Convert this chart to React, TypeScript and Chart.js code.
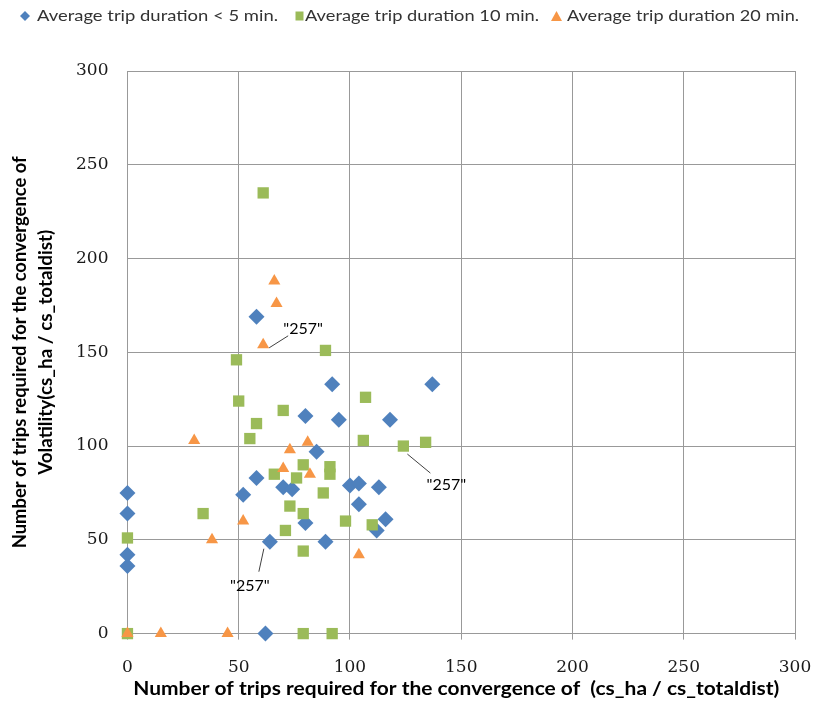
import React, { useEffect, useRef } from "react";
import { Chart, registerables } from "chart.js";

Chart.register(...registerables);

const seriesLabels = [
  "Average trip duration < 5 min.",
  "Average trip duration 10 min.",
  "Average trip duration 20 min.",
];
const seriesColors = ["#4F81BD", "#9BBB59", "#F79646"];

const xTitle = "Number of trips required for the convergence of  (cs_ha / cs_totaldist)";
const yTitleLines = [
  "Number of trips required for the convergence of",
  "Volatility(cs_ha / cs_totaldist)",
];

const axisMin = 0;
const axisMax = 300;
const axisStep = 50;

// Average trip duration < 5 min. (diamonds)
const under5X = [0, 0, 0, 0, 62, 64, 52, 58, 58, 70, 74, 80, 92, 95, 118, 85, 100, 104, 113, 104, 116, 112, 80, 89, 137];
const under5Y = [75, 64, 42, 36, 0, 49, 74, 83, 169, 78, 77, 116, 133, 114, 114, 97, 79, 80, 78, 69, 61, 55, 59, 49, 133];

// Average trip duration 10 min. (squares)
const min10X = [0, 0, 34, 49, 50, 55, 58, 61, 66, 70, 71, 73, 76, 79, 79, 79, 79, 88, 89, 91, 91, 92, 98, 106, 107, 110, 124, 134];
const min10Y = [0, 51, 64, 146, 124, 104, 112, 235, 85, 119, 55, 68, 83, 90, 64, 44, 0, 75, 151, 89, 85, 0, 60, 103, 126, 58, 100, 102];

// Average trip duration 20 min. (triangles)
const min20X = [0, 15, 30, 38, 45, 52, 61, 66, 67, 70, 73, 81, 82, 104];
const min20Y = [0, 0, 103, 50, 0, 60, 154, 188, 176, 88, 98, 102, 85, 42];

// Data labels ("257") attached to points: series index, point index
const annotationText = ['"257"', '"257"', '"257"'];
const annotationSeries = [2, 1, 0];
const annotationPoint = [6, 26, 5];

const toPoints = (xs: number[], ys: number[]) => xs.map((x, i) => ({ x, y: ys[i] }));

function drawFitted(
  ctx: CanvasRenderingContext2D,
  text: string,
  x: number,
  y: number,
  targetW: number,
  align: CanvasTextAlign
) {
  const w = ctx.measureText(text).width;
  const s = w > 0 ? targetW / w : 1;
  ctx.save();
  ctx.translate(x, y);
  ctx.scale(s, 1);
  ctx.textAlign = align;
  ctx.fillText(text, 0, 0);
  ctx.restore();
}

const SANS = "Lato, 'Open Sans', sans-serif";

const decorPlugin = {
  id: "decor",
  afterDatasetsDraw(chart: any) {
    const ctx: CanvasRenderingContext2D = chart.ctx;
    // label offsets (style) relative to anchored point: [lineStartDx, lineStartDy, lineEndDx, lineEndDy, textDx, textDy]
    const offsets = [
      [6, 3, 25, -9, 40, -16],
      [4, 8, 27, 27, 43, 39],
      [-6, 7, -11, 30, -20, 44],
    ];
    ctx.save();
    ctx.font = `16px ${SANS}`;
    ctx.fillStyle = "#000";
    ctx.strokeStyle = "#404040";
    ctx.lineWidth = 1;
    ctx.textAlign = "center";
    ctx.textBaseline = "middle";
    annotationText.forEach((t, i) => {
      const meta = chart.getDatasetMeta(annotationSeries[i]);
      const el = meta.data[annotationPoint[i]];
      if (!el) return;
      const o = offsets[i];
      ctx.beginPath();
      ctx.moveTo(el.x + o[0], el.y + o[1]);
      ctx.lineTo(el.x + o[2], el.y + o[3]);
      ctx.stroke();
      ctx.fillText(t, el.x + o[4], el.y + o[5]);
    });
    ctx.restore();
  },
  afterDraw(chart: any) {
    const ctx: CanvasRenderingContext2D = chart.ctx;
    const area = chart.chartArea;
    ctx.save();
    // Legend
    const legendTextX = [37, 305, 567];
    const legendTextW = [241, 234, 232];
    const markerX = [25, 299.5, 556.5];
    const my = 16;
    seriesLabels.forEach((label, i) => {
      ctx.fillStyle = seriesColors[i];
      ctx.beginPath();
      const mx = markerX[i];
      if (i === 0) {
        ctx.moveTo(mx, my - 5);
        ctx.lineTo(mx + 5, my);
        ctx.lineTo(mx, my + 5);
        ctx.lineTo(mx - 5, my);
        ctx.closePath();
      } else if (i === 1) {
        ctx.rect(mx - 4, my - 4.5, 8, 9);
      } else {
        ctx.moveTo(mx, my - 5);
        ctx.lineTo(mx + 5.5, my + 5);
        ctx.lineTo(mx - 5.5, my + 5);
        ctx.closePath();
      }
      ctx.fill();
      ctx.fillStyle = "#333";
      ctx.font = `16px ${SANS}`;
      ctx.textBaseline = "alphabetic";
      drawFitted(ctx, label, legendTextX[i], 21, legendTextW[i], "left");
    });

    // X axis title
    ctx.fillStyle = "#000";
    ctx.font = `bold 18px ${SANS}`;
    ctx.textBaseline = "alphabetic";
    drawFitted(ctx, xTitle, (area.left + area.right) / 2 - 5, 695, 646, "center");

    // Y axis title
    const cy = (area.top + area.bottom) / 2;
    const baseX = [26, 52];
    const lineW = [392, 245];
    yTitleLines.forEach((line, i) => {
      ctx.save();
      ctx.translate(baseX[i], cy);
      ctx.rotate(-Math.PI / 2);
      drawFitted(ctx, line, 0, 0, lineW[i], "center");
      ctx.restore();
    });
    ctx.restore();
  },
};

export default function App() {
  const canvasRef = useRef<HTMLCanvasElement | null>(null);

  useEffect(() => {
    if (!canvasRef.current) return;
    const markerStyles = ["rectRot", "rect", "triangle"];
    const radii = [8, 8, 7];
    const xsList = [under5X, min10X, min20X];
    const ysList = [under5Y, min10Y, min20Y];
    const chart = new Chart(canvasRef.current, {
      type: "scatter",
      data: {
        datasets: seriesLabels.map((label, i) => ({
          label,
          data: toPoints(xsList[i], ysList[i]),
          pointStyle: markerStyles[i] as any,
          pointRadius: radii[i],
          pointHoverRadius: radii[i],
          backgroundColor: seriesColors[i],
          borderColor: seriesColors[i],
          borderWidth: 0,
          clip: false as any,
          order: 3 - i,
        })),
      },
      options: {
        animation: false,
        responsive: false,
        devicePixelRatio: 1,
        events: [],
        layout: { padding: { left: 57, right: 19, top: 71, bottom: 6 } },
        plugins: {
          legend: { display: false },
          tooltip: { enabled: false },
        },
        scales: {
          x: {
            type: "linear",
            min: axisMin,
            max: axisMax,
            afterFit: (scale: any) => {
              scale.paddingLeft = 0;
              scale.paddingRight = 0;
            },
            ticks: {
              stepSize: axisStep,
              font: { family: "'DejaVu Serif', serif", size: 17 },
              color: "#1a1a1a",
              padding: 18,
            },
            grid: { color: "#999999", lineWidth: 1, tickLength: 6, drawTicks: true },
            border: { color: "#999999" },
          },
          y: {
            type: "linear",
            min: axisMin,
            max: axisMax,
            ticks: {
              stepSize: axisStep,
              font: { family: "'DejaVu Serif', serif", size: 17 },
              color: "#1a1a1a",
              padding: 19,
            },
            grid: { color: "#999999", lineWidth: 1, drawTicks: false },
            border: { color: "#999999" },
          },
        },
      },
      plugins: [decorPlugin],
    });
    return () => chart.destroy();
  }, []);

  return (
    <div style={{ position: "absolute", left: 0, top: 0, width: 814, height: 702, background: "#fff" }}>
      <canvas ref={canvasRef} width={814} height={702} style={{ display: "block" }} />
    </div>
  );
}
